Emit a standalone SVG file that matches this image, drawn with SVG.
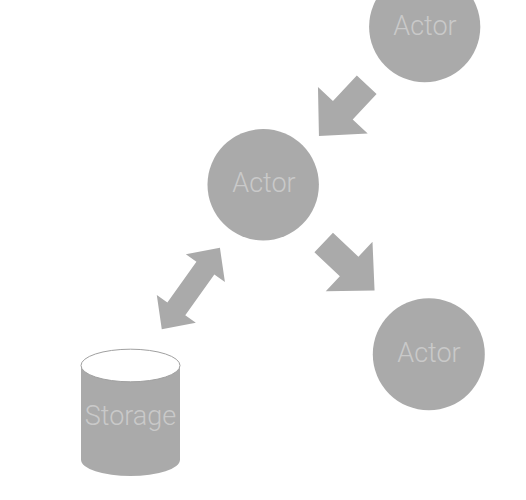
<svg xmlns="http://www.w3.org/2000/svg" width="526" height="500" viewBox="0 0 526 500">
<style>
.node{fill:#aaaaaa}
.lbl{font-family:Roboto,"Liberation Sans",sans-serif;font-weight:300;font-size:27px;fill:#c9c9c9;text-anchor:middle}
.conn{fill:#aaaaaa}
</style>
<defs>
<polygon id="blk" points="0,-13.5 35,-13.5 35,-34 70,0 35,34 35,13.5 0,13.5"/>
</defs>
<rect width="526" height="500" fill="#ffffff"/>
<g id="connectors" class="conn">
<use href="#blk" transform="translate(366.7,84.7) rotate(133)"/>
<use href="#blk" transform="translate(323.7,242.5) rotate(43.4)"/>
<polygon transform="translate(190.85,288.5) rotate(-54.45)" points="-50,0 -25,-24 -25,-11 25,-11 25,-24 50,0 25,24 25,11 -25,11 -25,24"/>
</g>
<g id="actor1">
<circle class="node" cx="424.7" cy="26.7" r="55.6"/>
<text class="lbl" x="425" y="35">Actor</text>
</g>
<g id="actor2">
<circle class="node" cx="263.2" cy="184.7" r="55.7"/>
<text class="lbl" x="264" y="192">Actor</text>
</g>
<g id="actor3">
<circle class="node" cx="428.8" cy="354.3" r="56"/>
<text class="lbl" x="429" y="362">Actor</text>
</g>
<g id="storage">
<path class="node" d="M81,365.5 L81,459.7 A49.5,16.3 0 0 0 180,459.7 L180,365.5 Z"/>
<ellipse cx="130.5" cy="365.5" rx="49.5" ry="16.3" fill="#ffffff" stroke="#a0a0a0" stroke-width="1"/>
<text class="lbl" x="130.5" y="424.5">Storage</text>
</g>
</svg>
